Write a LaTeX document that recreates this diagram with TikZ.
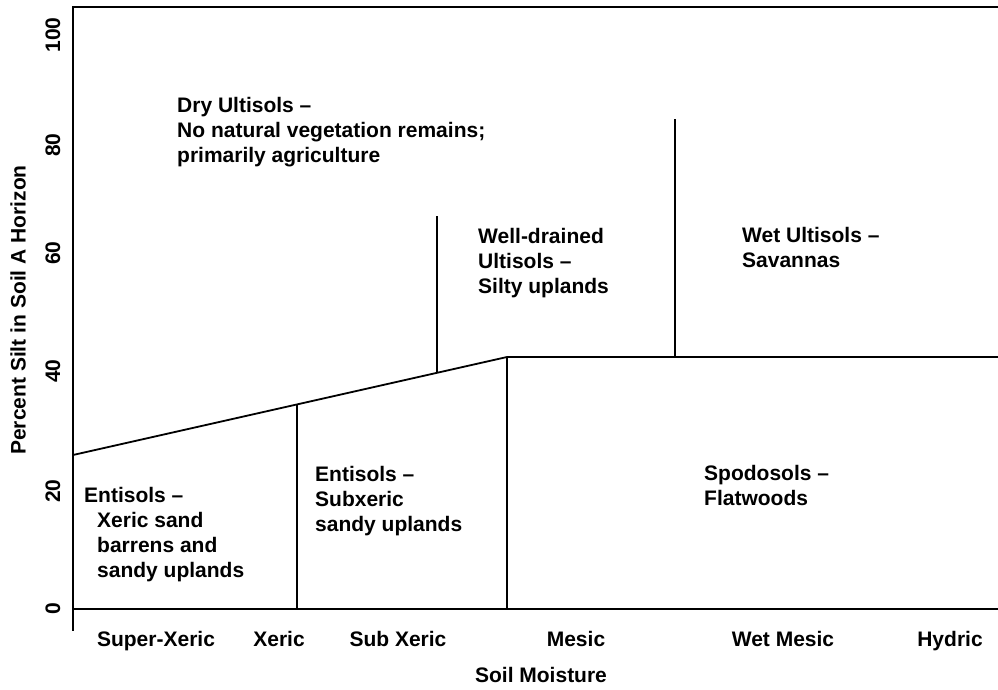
\documentclass[tikz,border=0pt]{standalone}
\usepackage{fontspec}
\setmainfont{Liberation Sans}
\begin{document}
\begin{tikzpicture}[x=1pt,y=-1pt,
  ln/.style={line width=1.8pt, line cap=butt},
  region/.style={font=\fontsize{21}{25}\selectfont\bfseries, inner sep=0pt, align=left, anchor=north west},
  xlab/.style={font=\fontsize{21}{25}\selectfont\bfseries, inner sep=0pt, anchor=base},
  ylab/.style={font=\fontsize{21}{25}\selectfont\bfseries, inner sep=0pt, anchor=center, rotate=90}]
\useasboundingbox (0,0) rectangle (998,689);
% frame coordinates
\coordinate (tl) at (73,7);
\coordinate (tr) at (998,7);
\coordinate (axb) at (73,631);
\coordinate (bl) at (73,609);
\coordinate (br) at (998,609);
\coordinate (d0) at (73,455);
\coordinate (d1) at (297,404.4);
\coordinate (d2) at (437,372.8);
\coordinate (d3) at (507,357);
\coordinate (hr) at (998,357);
\coordinate (v1b) at (297,609);
\coordinate (v3b) at (507,609);
\coordinate (v2t) at (437,216);
\coordinate (v4t) at (675,119);
\coordinate (v4b) at (675,357);
% lines
\draw[ln] (tr) -- (tl) -- (axb);
\draw[ln] (bl) -- (br);
\draw[ln] (d0) -- (d3) -- (hr);
\draw[ln] (d1) -- (v1b);
\draw[ln] (d3) -- (v3b);
\draw[ln] (v2t) -- (d2);
\draw[ln] (v4t) -- (v4b);
% region texts
\node[region] (dry) at (177,97) {Dry Ultisols --\\No natural vegetation remains;\\primarily agriculture};
\node[region] (well) at (478,228) {Well-drained\\Ultisols --\\Silty uplands};
\node[region] (wet) at (742,227) {Wet Ultisols --\\Savannas};
\node[region] (entl) at (84,487) {Entisols --\\\hspace*{13pt}Xeric sand\\\hspace*{13pt}barrens and\\\hspace*{13pt}sandy uplands};
\node[region] (entm) at (315,466) {Entisols --\\Subxeric\\sandy uplands};
\node[region] (spod) at (704,465) {Spodosols --\\Flatwoods};
% x axis labels
\node[xlab] (sx) at (156,646) {Super-Xeric};
\node[xlab] (xe) at (279,646) {Xeric};
\node[xlab] (sub) at (398,646) {Sub Xeric};
\node[xlab] (me) at (576,646) {Mesic};
\node[xlab] (wm) at (783,646) {Wet Mesic};
\node[xlab] (hy) at (950,646) {Hydric};
\node[xlab] (xt) at (541,682) {Soil Moisture};
% y axis labels
\node[ylab] (y0) at (53,609) {0};
\node[ylab] (y20) at (53,491) {20};
\node[ylab] (y40) at (53,371) {40};
\node[ylab] (y60) at (53,253) {60};
\node[ylab] (y80) at (53,145) {80};
\node[ylab] (y100) at (53,35) {100};
\node[ylab] (yt) at (18,310) {Percent Silt in Soil A Horizon};
\end{tikzpicture}
\end{document}
